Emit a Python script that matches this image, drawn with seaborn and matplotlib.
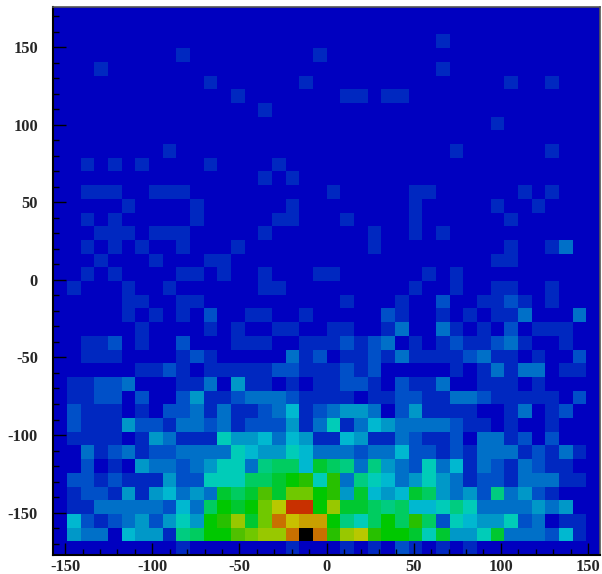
import matplotlib
matplotlib.use('Agg')
import matplotlib.pyplot as plt
from matplotlib.colors import ListedColormap
import numpy as np
import seaborn as sns

# bin contents, top row first, 40 x 40
counts = [
    [0,0,0,0,0,0,0,0,0,0, 0,0,0,0,0,0,0,0,0,0, 0,0,0,0,0,0,0,0,0,0, 0,0,0,0,0,0,0,0,0,0],
    [0,0,0,0,0,0,0,0,0,0, 0,0,0,0,0,0,0,0,0,0, 0,0,0,0,0,0,0,0,0,0, 0,0,0,0,0,0,0,0,0,0],
    [0,0,0,0,0,0,0,0,0,0, 0,0,0,0,0,0,0,0,0,0, 0,0,0,0,0,0,0,0,1,0, 0,0,0,0,0,0,0,0,0,0],
    [0,0,0,0,0,0,0,0,0,1, 0,0,0,0,0,0,0,0,0,1, 0,0,0,0,0,0,0,0,0,0, 0,0,0,0,0,0,0,0,0,0],
    [0,0,0,1,0,0,0,0,0,0, 0,0,0,0,0,0,0,0,0,0, 0,0,0,0,0,0,0,0,1,0, 0,0,0,0,0,0,0,0,0,0],
    [0,0,0,0,0,0,0,0,0,0, 0,1,0,0,0,0,0,0,1,0, 0,0,0,0,0,0,0,0,0,0, 0,0,0,1,0,0,1,0,0,0],
    [0,0,0,0,0,0,0,0,0,0, 0,0,0,1,0,0,0,0,0,0, 0,1,1,0,1,1,0,0,0,0, 0,0,0,0,0,0,0,0,0,0],
    [0,0,0,0,0,0,0,0,0,0, 0,0,0,0,0,1,0,0,0,0, 0,0,0,0,0,0,0,0,0,0, 0,0,0,0,0,0,0,0,0,0],
    [0,0,0,0,0,0,0,0,0,0, 0,0,0,0,0,0,0,0,0,0, 0,0,0,0,0,0,0,0,0,0, 0,0,1,0,0,0,0,0,0,0],
    [0,0,0,0,0,0,0,0,0,0, 0,0,0,0,0,0,0,0,0,0, 0,0,0,0,0,0,0,0,0,0, 0,0,0,0,0,0,0,0,0,0],
    [0,0,0,0,0,0,0,0,1,0, 0,0,0,0,0,0,0,0,0,0, 0,0,0,0,0,0,0,0,0,1, 0,0,0,0,0,0,1,0,0,0],
    [0,0,1,0,1,0,1,0,0,0, 0,1,0,0,0,0,1,0,0,0, 0,0,0,0,0,0,0,0,0,0, 0,0,0,0,0,0,0,0,0,0],
    [0,0,0,0,0,0,0,0,0,0, 0,0,0,0,0,1,0,1,0,0, 0,0,0,0,0,0,0,0,0,0, 0,0,0,0,0,0,0,0,0,0],
    [0,0,1,1,1,0,0,1,1,1, 0,0,0,0,0,0,0,0,0,0, 1,0,0,0,0,0,1,1,0,0, 0,0,0,0,1,0,1,0,0,0],
    [0,0,0,0,0,1,0,0,0,0, 1,0,0,0,0,0,0,1,0,0, 0,0,0,0,0,0,1,0,0,0, 0,0,1,0,0,1,0,0,0,0],
    [0,0,1,0,1,0,0,0,0,0, 1,0,0,0,0,0,1,1,0,0, 0,1,0,0,0,0,1,0,0,0, 0,0,0,1,0,0,0,0,0,0],
    [0,0,0,1,1,1,0,1,1,1, 0,0,0,0,0,1,0,0,0,0, 0,0,0,1,0,0,1,0,1,0, 0,0,0,0,0,0,0,0,0,0],
    [0,0,1,0,1,0,1,0,0,1, 0,0,0,1,0,0,0,0,0,0, 0,0,0,1,0,0,0,0,0,0, 0,0,0,1,0,0,1,3,0,0],
    [0,0,0,1,0,0,0,1,0,0, 0,1,1,0,0,0,0,0,0,0, 0,0,0,0,0,0,0,0,0,0, 0,0,1,1,0,0,0,0,0,0],
    [0,0,1,0,1,0,0,0,0,1, 1,0,1,0,0,1,0,0,0,1, 1,0,0,0,0,0,0,1,0,1, 0,0,0,0,0,0,0,0,0,0],
    [0,1,0,0,0,1,0,0,1,0, 0,0,0,0,0,1,1,0,0,0, 0,0,0,0,0,0,1,0,0,1, 0,0,1,1,0,0,1,0,0,0],
    [0,0,0,0,0,1,1,0,0,1, 1,0,0,0,0,0,0,0,0,0, 0,1,0,0,0,1,0,0,2,0, 0,1,1,2,1,0,1,0,0,0],
    [0,0,0,0,0,1,0,1,0,1, 0,2,0,0,1,1,0,0,1,0, 0,0,0,0,2,1,0,0,1,0, 1,0,1,1,3,0,0,0,3,0],
    [0,0,0,0,0,0,1,0,0,0, 0,1,0,1,0,0,1,1,0,0, 1,1,0,0,1,3,0,0,3,1, 0,1,0,2,0,1,1,1,0,0],
    [0,0,1,1,2,0,1,0,0,2, 0,0,0,1,1,1,0,0,1,1, 1,2,1,2,3,0,1,0,1,2, 1,1,2,3,1,0,0,1,0,0],
    [0,0,1,1,1,0,0,0,0,1, 2,1,0,0,0,0,0,3,1,2, 0,1,1,2,1,3,1,1,1,1, 2,3,1,1,0,1,0,0,2,0],
    [0,0,0,0,0,0,1,1,2,1, 0,1,1,1,1,1,2,2,1,1, 1,2,1,2,0,0,0,0,0,1, 0,1,3,1,3,3,0,1,1,0],
    [0,1,1,2,2,3,0,0,0,1, 1,3,0,4,1,1,0,1,0,1, 1,2,2,1,0,2,1,1,3,0, 0,1,1,1,0,1,0,0,0,0],
    [0,1,1,2,2,0,2,0,0,2, 4,1,1,2,3,3,3,2,1,1, 1,1,0,1,1,2,2,1,1,3, 3,2,1,1,1,1,1,0,2,0],
    [0,2,1,1,1,0,1,0,2,2, 3,1,3,1,1,2,3,5,1,2, 3,4,4,3,0,2,4,1,1,1, 1,0,0,1,3,0,1,2,0,0],
    [0,2,1,1,1,4,2,2,1,3, 3,2,3,1,2,2,2,4,1,3, 6,1,3,5,4,3,3,3,3,2, 1,1,0,1,0,0,1,0,0,0],
    [0,1,1,1,1,0,1,4,3,1, 1,1,6,4,4,5,3,5,4,1, 1,5,4,1,1,3,2,1,1,2, 0,3,3,1,2,0,2,0,0,0],
    [0,0,3,1,2,3,1,2,2,3, 3,3,3,6,5,4,4,6,5,3, 3,3,2,3,3,5,2,2,1,2, 1,3,3,3,1,2,1,3,1,0],
    [0,0,2,0,1,0,4,3,3,2, 3,4,6,6,3,7,8,8,5,9, 8,7,3,7,4,3,2,6,3,5, 1,3,2,1,3,2,1,1,0,0],
    [0,2,2,1,2,1,1,1,4,2, 2,6,6,6,8,8,9,10,11,6, 11,3,7,6,5,3,4,6,4,3, 1,2,2,1,3,3,3,1,1,0],
    [0,1,2,2,1,4,1,4,5,3, 4,3,9,8,9,12,9,13,13,10, 11,4,9,5,4,5,9,8,4,3, 4,2,7,3,4,2,1,0,0,0],
    [0,1,1,3,3,3,3,3,2,5, 3,8,10,9,10,13,15,19,19,10, 14,9,9,8,7,8,5,5,6,7, 6,3,3,3,3,4,3,4,0,0],
    [0,5,2,1,2,3,4,2,4,6, 4,10,11,14,9,13,18,16,17,17, 10,7,6,8,10,8,11,8,2,6, 5,4,4,6,2,3,0,1,1,0],
    [0,4,3,3,0,5,4,4,1,7, 8,10,10,12,13,14,14,18,20,18, 11,14,15,11,10,10,9,6,9,4, 4,6,9,3,3,3,2,5,1,0],
    [0,0,0,0,0,0,0,0,0,1, 0,0,0,0,0,0,0,1,0,0, 0,1,0,1,0,2,1,0,1,0, 1,0,0,0,0,0,0,0,0,0],
]
level_colors = ['#0000c0', '#0028c0', '#0050c8', '#0070c8', '#0098c8', '#00b8d0', '#00ccb8',
                '#00cc80', '#00cc60', '#00c830', '#00c800', '#28c000', '#50c000', '#70c800',
                '#98c800', '#b8c800', '#c8c000', '#c8a000', '#c87000', '#c83000', '#000000']
x_major = [-150, -100, -50, 0, 50, 100, 150]
y_major = [-150, -100, -50, 0, 50, 100, 150]
x_range = (-156.8, 156.9)
y_range = (-177.3, 175.8)

sns.set_style('white')
plt.rcParams['font.family'] = ['Liberation Serif', 'DejaVu Serif']

counts = np.array(counts)
fig = plt.figure(figsize=(6.02, 5.74), dpi=100)
ax = fig.add_axes([53.3 / 602, 1 - 555 / 574, (600 - 53.3) / 602, (555 - 7) / 574])
sns.heatmap(counts, ax=ax, cmap=ListedColormap(level_colors), vmin=-0.5, vmax=20.5,
            cbar=False, xticklabels=False, yticklabels=False, linewidths=0, rasterized=True)


def to_col(v):
    return (np.asarray(v, dtype=float) - x_range[0]) / (x_range[1] - x_range[0]) * counts.shape[1]


def to_row(v):
    return (y_range[1] - np.asarray(v, dtype=float)) / (y_range[1] - y_range[0]) * counts.shape[0]


x_minor = [v for v in range(-150, 160, 10) if v not in x_major]
y_minor = [v for v in range(-170, 180, 10) if v not in y_major]
ax.set_xticks(to_col(x_major))
ax.set_xticklabels([str(v) for v in x_major], fontsize=11.8, fontweight='bold')
ax.set_xticks(to_col(x_minor), minor=True)
ax.set_yticks(to_row(y_major))
ax.set_yticklabels([str(v) for v in y_major], fontsize=11.8, fontweight='bold', rotation=0)
ax.set_yticks(to_row(y_minor), minor=True)
ax.tick_params(axis='both', which='major', direction='in', length=9, width=1.0, color='black')
ax.tick_params(axis='x', which='major', pad=3)
ax.tick_params(axis='y', which='major', pad=11)
ax.tick_params(axis='both', which='minor', direction='in', length=4.5, width=1.0, color='black')
ax.tick_params(bottom=True, left=True, top=False, right=False, which='both')
ax.set_axisbelow(False)

for side in ['left', 'bottom']:
    ax.spines[side].set_visible(True)
    ax.spines[side].set_color('black')
    ax.spines[side].set_linewidth(1.5)
for side in ['top', 'right']:
    ax.spines[side].set_visible(True)
    ax.spines[side].set_color('#555555')
    ax.spines[side].set_linewidth(1.2)

fig.savefig('out.png', dpi=100)
